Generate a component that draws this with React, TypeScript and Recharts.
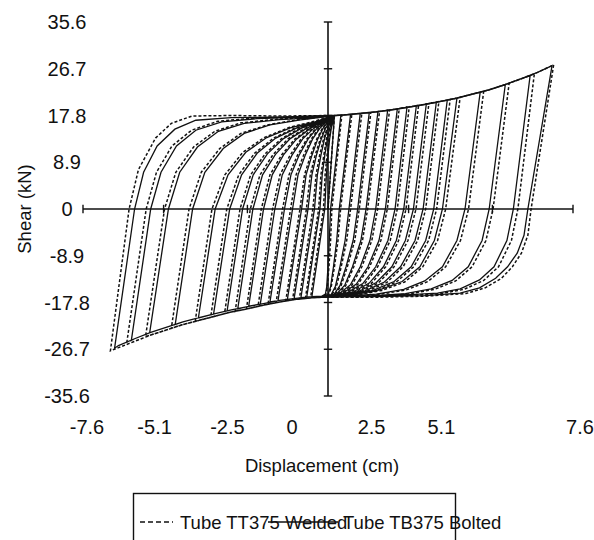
import React from 'react';
import { ScatterChart, Scatter, XAxis, YAxis, ReferenceLine } from 'recharts';

// ---- axis ticks ----
const yTicks = [-35.6, -26.7, -17.8, -8.9, 0, 8.9, 17.8, 26.7, 35.6];
const xTicks = [-7.6, -5.1, -2.5, 0, 2.5, 5.1, 7.6];

// ---- envelopes (cm, kN) ----
const topEnvelope: number[][] = [
  [0.2, 17.8], [0.5, 17.9], [1, 18.2], [1.5, 18.5], [2, 18.9], [2.5, 19.4], [3, 19.9],
  [3.5, 20.5], [4, 21.1], [4.5, 21.9], [5, 22.7], [5.5, 23.7], [6, 24.8], [6.5, 26.0],
];
const bottomEnvelopeSolid: number[][] = [
  [-0.2, -16.6], [-0.5, -16.7], [-1, -17.0], [-1.5, -17.4], [-2, -18.0], [-2.5, -18.6], [-3, -19.2],
  [-3.5, -19.9], [-4, -20.7], [-4.5, -21.5], [-5, -22.5], [-5.5, -23.5], [-6, -24.7], [-6.5, -26.0],
];
const bottomEnvelopeDashed: number[][] = [
  [-0.2, -16.8], [-0.5, -16.9], [-1, -17.2], [-1.5, -17.7], [-2, -18.3], [-2.5, -19.0], [-3, -19.6],
  [-3.5, -20.4], [-4, -21.2], [-4.5, -22.0], [-5, -23.0], [-5.5, -24.0], [-6, -25.2], [-6.5, -26.4],
];

// ---- Tube TB375 Bolted (solid) ----
const posPeaksSolid: number[][] = [
  [0.4, 17.9], [0.7, 18.0], [1.0, 18.2], [1.28, 18.35], [1.55, 18.55], [1.85, 18.8], [2.15, 19.05],
  [2.45, 19.35], [2.74, 19.65], [3.05, 20.0], [3.36, 20.3], [3.7, 20.75], [4.0, 21.1], [4.72, 22.2],
  [5.5, 23.7], [6.27, 25.4], [6.95, 27.3],
];
const negPeaksSolid: number[][] = [
  [-0.5, -16.7], [-0.66, -16.8], [-0.84, -16.9], [-1.05, -17.0], [-1.26, -17.2], [-1.55, -17.4],
  [-1.8, -17.7], [-2.1, -18.1], [-2.46, -18.5], [-2.8, -19.0], [-3.13, -19.4], [-3.55, -20.0],
  [-4.02, -20.7], [-4.74, -22.0], [-5.53, -23.5], [-6.1, -25.0], [-6.62, -26.5],
];
const unloadSolid: number[][][] = [
  [[0.08, 0], [0.04, -6], [0, -11], [-0.04, -14.8], [-0.08, -16.2]],
  [[0.35, 0], [0.27, -6], [0.17, -11], [0.08, -14.8], [0.0, -16.3]],
  [[0.65, 0], [0.53, -6], [0.37, -11], [0.23, -14.7], [0.1, -16.3]],
  [[0.92, 0], [0.78, -6], [0.56, -11], [0.37, -14.6], [0.18, -16.3]],
  [[1.18, 0], [1.02, -6], [0.76, -11], [0.52, -14.5], [0.26, -16.2]],
  [[1.48, 0], [1.3, -6], [1.0, -11], [0.7, -14.4], [0.35, -16.1]],
  [[1.78, 0], [1.58, -6], [1.24, -11], [0.88, -14.3], [0.46, -16.0], [0.15, -16.5]],
  [[2.08, 0], [1.86, -6], [1.48, -11], [1.08, -14.2], [0.6, -15.9], [0.2, -16.5]],
  [[2.35, 0], [2.12, -6], [1.72, -11], [1.28, -14.1], [0.78, -15.8], [0.25, -16.5]],
  [[2.65, 0], [2.4, -6], [1.98, -11], [1.5, -14.0], [0.95, -15.7], [0.3, -16.5]],
  [[2.95, 0], [2.7, -6], [2.25, -11], [1.75, -13.9], [1.15, -15.6], [0.3, -16.6]],
  [[3.28, 0], [3.03, -6], [2.58, -11], [2.05, -13.8], [1.4, -15.5], [0.8, -16.2], [0.3, -16.6]],
  [[3.55, 0], [3.3, -6], [2.85, -11], [2.3, -13.8], [1.6, -15.4], [0.9, -16.2], [0.3, -16.6]],
  [[4.25, 0], [4.0, -6], [3.55, -11], [3.0, -13.7], [2.35, -15.3], [1.5, -16.2], [0.3, -16.7]],
  [[5.0, 0], [4.78, -6], [4.35, -11], [3.85, -13.6], [3.2, -15.2], [2.4, -16.1], [1.2, -16.6], [0.3, -16.7]],
  [[5.75, 0], [5.55, -6], [5.15, -11], [4.7, -13.5], [4.1, -15.2], [3.4, -16.0], [2.0, -16.5], [0.3, -16.7]],
  [[6.2, 0], [6.08, -5], [5.87, -8.4], [5.57, -11], [5.2, -13.2], [4.7, -15.0], [4.1, -16.0], [3.0, -16.5], [1.5, -16.7], [0.3, -16.7]],
];
const reloadSolid: number[][][] = [
  [[-0.1, 0], [-0.05, 6.5], [0.0, 10.2], [0.05, 13.3], [0.1, 15.3], [0.15, 16.6]],
  [[-0.25, 0], [-0.18, 6.5], [-0.1, 10.2], [-0.02, 13.3], [0.05, 15.3], [0.12, 16.6]],
  [[-0.42, 0], [-0.33, 6.5], [-0.22, 10.2], [-0.11, 13.3], [-0.01, 15.3], [0.08, 16.6]],
  [[-0.62, 0], [-0.5, 6.5], [-0.36, 10.2], [-0.21, 13.3], [-0.08, 15.3], [0.05, 16.6]],
  [[-0.82, 0], [-0.68, 6.5], [-0.5, 10.2], [-0.32, 13.3], [-0.16, 15.3], [0.0, 16.6]],
  [[-1.1, 0], [-0.93, 6.5], [-0.71, 10.2], [-0.48, 13.3], [-0.26, 15.3], [-0.05, 16.6]],
  [[-1.35, 0], [-1.15, 6.5], [-0.9, 10.2], [-0.62, 13.3], [-0.35, 15.3], [-0.1, 16.6]],
  [[-1.65, 0], [-1.42, 6.5], [-1.12, 10.2], [-0.79, 13.3], [-0.45, 15.3], [-0.15, 16.6]],
  [[-2.0, 0], [-1.73, 6.5], [-1.38, 10.3], [-0.98, 13.3], [-0.56, 15.3], [-0.2, 16.6]],
  [[-2.33, 0], [-2.03, 6.5], [-1.63, 10.4], [-1.17, 13.4], [-0.68, 15.3], [-0.25, 16.6]],
  [[-2.65, 0], [-2.32, 6.5], [-1.88, 10.5], [-1.38, 13.4], [-0.82, 15.4], [-0.3, 16.6]],
  [[-3.05, 0], [-2.68, 6.5], [-2.2, 10.6], [-1.62, 13.5], [-0.98, 15.4], [-0.35, 16.6]],
  [[-3.5, 0], [-3.1, 6.5], [-2.55, 10.8], [-1.9, 13.6], [-1.15, 15.5], [-0.4, 16.6]],
  [[-4.2, 0], [-3.82, 7], [-3.25, 11.5], [-2.6, 14.4], [-1.8, 16.0], [-0.9, 16.9]],
  [[-4.95, 0], [-4.6, 7], [-4.05, 11.8], [-3.4, 14.8], [-2.6, 16.3], [-1.5, 17.0], [-0.4, 17.4]],
  [[-5.5, 0], [-5.18, 7], [-4.7, 12], [-4.1, 15.0], [-3.3, 16.6], [-2.2, 17.2], [-0.8, 17.5]],
  [[-6.0, 0], [-5.72, 7], [-5.3, 12], [-4.75, 15.2], [-4.1, 16.9], [-3.0, 17.4], [-1.5, 17.5], [0.2, 17.8]],
];

// ---- Tube TT375 Welded (dashed) ----
const posPeaksDashed: number[][] = [
  [0.43, 17.9], [0.74, 18.05], [1.05, 18.25], [1.33, 18.4], [1.6, 18.6], [1.91, 18.85], [2.21, 19.1],
  [2.52, 19.45], [2.81, 19.75], [3.13, 20.1], [3.44, 20.45], [3.79, 20.85], [4.1, 21.3], [4.83, 22.4],
  [5.62, 23.95], [6.4, 25.7], [7.0, 27.45],
];
const negPeaksDashed: number[][] = [
  [-0.54, -16.9], [-0.7, -17.0], [-0.89, -17.15], [-1.1, -17.3], [-1.31, -17.5], [-1.61, -17.8],
  [-1.86, -18.1], [-2.17, -18.5], [-2.53, -19.0], [-2.88, -19.5], [-3.21, -19.9], [-3.64, -20.6],
  [-4.12, -21.4], [-4.86, -22.7], [-5.66, -24.3], [-6.25, -25.8], [-6.75, -27.0],
];
const unloadDashed: number[][][] = [
  [[0.12, 0], [0.08, -6], [0.03, -11], [-0.02, -14.8], [-0.07, -16.3]],
  [[0.39, 0], [0.31, -6], [0.2, -11], [0.1, -14.8], [0.02, -16.4]],
  [[0.7, 0], [0.58, -6], [0.41, -11], [0.26, -14.8], [0.12, -16.4]],
  [[0.97, 0], [0.83, -6], [0.6, -11], [0.4, -14.7], [0.2, -16.4]],
  [[1.23, 0], [1.07, -6], [0.8, -11], [0.55, -14.6], [0.28, -16.3]],
  [[1.54, 0], [1.36, -6], [1.05, -11], [0.74, -14.5], [0.38, -16.2]],
  [[1.84, 0], [1.64, -6], [1.29, -11], [0.92, -14.4], [0.49, -16.1], [0.15, -16.6]],
  [[2.15, 0], [1.93, -6], [1.54, -11], [1.13, -14.3], [0.64, -16.0], [0.2, -16.6]],
  [[2.42, 0], [2.19, -6], [1.79, -11], [1.34, -14.2], [0.82, -15.9], [0.25, -16.6]],
  [[2.73, 0], [2.48, -6], [2.05, -11], [1.56, -14.1], [1.0, -15.8], [0.3, -16.6]],
  [[3.03, 0], [2.78, -6], [2.33, -11], [1.82, -14.0], [1.2, -15.7], [0.3, -16.7]],
  [[3.37, 0], [3.12, -6], [2.66, -11], [2.12, -13.9], [1.46, -15.6], [0.84, -16.3], [0.3, -16.7]],
  [[3.65, 0], [3.4, -6], [2.94, -11], [2.38, -13.9], [1.67, -15.5], [0.95, -16.3], [0.3, -16.7]],
  [[4.36, 0], [4.11, -6], [3.65, -11], [3.1, -13.8], [2.43, -15.4], [1.55, -16.3], [0.3, -16.8]],
  [[5.12, 0], [4.9, -6], [4.47, -11], [3.96, -13.7], [3.3, -15.3], [2.48, -16.2], [1.25, -16.7], [0.3, -16.8]],
  [[5.89, 0], [5.69, -6], [5.29, -11], [4.83, -13.6], [4.22, -15.3], [3.5, -16.1], [2.05, -16.6], [0.3, -16.8]],
  [[6.3, 0], [6.2, -5], [6.0, -8.4], [5.72, -11], [5.38, -13.2], [4.88, -15.0], [4.28, -16.1], [3.0, -16.6], [1.5, -16.8], [0.3, -16.8]],
];
const reloadDashed: number[][][] = [
  [[-0.14, 0], [-0.09, 6.5], [-0.03, 10.2], [0.03, 13.3], [0.08, 15.3], [0.14, 16.6]],
  [[-0.29, 0], [-0.22, 6.5], [-0.13, 10.2], [-0.05, 13.3], [0.03, 15.3], [0.1, 16.6]],
  [[-0.47, 0], [-0.37, 6.5], [-0.26, 10.2], [-0.14, 13.3], [-0.03, 15.3], [0.06, 16.6]],
  [[-0.67, 0], [-0.55, 6.5], [-0.4, 10.2], [-0.24, 13.3], [-0.1, 15.3], [0.03, 16.6]],
  [[-0.87, 0], [-0.73, 6.5], [-0.54, 10.2], [-0.35, 13.3], [-0.18, 15.3], [-0.02, 16.6]],
  [[-1.16, 0], [-0.99, 6.5], [-0.76, 10.2], [-0.52, 13.3], [-0.29, 15.3], [-0.07, 16.6]],
  [[-1.41, 0], [-1.21, 6.5], [-0.95, 10.2], [-0.66, 13.3], [-0.38, 15.3], [-0.12, 16.6]],
  [[-1.72, 0], [-1.49, 6.5], [-1.18, 10.2], [-0.84, 13.3], [-0.49, 15.3], [-0.17, 16.6]],
  [[-2.07, 0], [-1.8, 6.5], [-1.44, 10.3], [-1.03, 13.3], [-0.6, 15.3], [-0.22, 16.6]],
  [[-2.41, 0], [-2.11, 6.5], [-1.7, 10.4], [-1.23, 13.4], [-0.73, 15.3], [-0.28, 16.6]],
  [[-2.73, 0], [-2.4, 6.5], [-1.95, 10.5], [-1.44, 13.4], [-0.87, 15.4], [-0.33, 16.6]],
  [[-3.14, 0], [-2.77, 6.5], [-2.28, 10.6], [-1.69, 13.5], [-1.03, 15.4], [-0.38, 16.6]],
  [[-3.6, 0], [-3.2, 6.5], [-2.64, 10.8], [-1.98, 13.6], [-1.21, 15.5], [-0.44, 16.7]],
  [[-4.31, 0], [-3.93, 7], [-3.36, 11.5], [-2.7, 14.4], [-1.88, 16.0], [-0.95, 17.0]],
  [[-5.07, 0], [-4.72, 7], [-4.17, 11.8], [-3.51, 14.8], [-2.7, 16.4], [-1.58, 17.1], [-0.45, 17.5]],
  [[-5.64, 0], [-5.32, 7], [-4.84, 12], [-4.23, 15.0], [-3.42, 16.7], [-2.3, 17.3], [-0.85, 17.6]],
  [[-6.17, 0], [-5.88, 7.5], [-5.35, 13.5], [-4.86, 16.3], [-4.22, 17.7], [-3.0, 17.8], [-1.5, 17.7], [0.2, 17.8]],
];

// Assemble the continuous test path from the read branches and envelopes
function buildLoops(
  posPeaks: number[][],
  negPeaks: number[][],
  unload: number[][][],
  reload: number[][][],
  bottomEnv: number[][],
) {
  const out: number[][] = [[0, 0]];
  posPeaks.forEach((peak, i) => {
    const lastX = out[out.length - 1][0];
    topEnvelope.forEach((p) => {
      if (p[0] > lastX && p[0] < peak[0]) out.push(p);
    });
    out.push(peak);
    unload[i].forEach((p) => out.push(p));
    const lx = out[out.length - 1][0];
    bottomEnv.forEach((p) => {
      if (p[0] < lx && p[0] > negPeaks[i][0]) out.push(p);
    });
    out.push(negPeaks[i]);
    reload[i].forEach((p) => out.push(p));
  });
  return out.map(([x, y]) => ({ x, y }));
}

const solidData = buildLoops(posPeaksSolid, negPeaksSolid, unloadSolid, reloadSolid, bottomEnvelopeSolid);
const dashedData = buildLoops(posPeaksDashed, negPeaksDashed, unloadDashed, reloadDashed, bottomEnvelopeDashed);

// label placement offsets (px) as they appear in the original figure
const xLabelShift = [4, -9, -20, -36, -37, -51, 7];

const INK = '#111111';
const FONT = '"Liberation Sans", Arial, Helvetica, sans-serif';

function XTick(props: any) {
  const { x, y, payload } = props;
  const i = xTicks.indexOf(payload.value);
  return (
    <text x={x + (xLabelShift[i] || 0)} y={y} dy={30} textAnchor="middle" fontSize={20} fill={INK} fontFamily={FONT}>
      {String(payload.value)}
    </text>
  );
}

function YTick(props: any) {
  const { x, y, payload } = props;
  return (
    <text x={x - 8} y={y} dy={7} textAnchor="middle" fontSize={20} fill={INK} fontFamily={FONT}>
      {String(payload.value)}
    </text>
  );
}

const NoShape = () => <g />;

export default function App() {
  return (
    <div
      style={{
        position: 'absolute',
        left: 0,
        top: 0,
        width: 594,
        height: 540,
        overflow: 'hidden',
        background: '#ffffff',
        fontFamily: FONT,
      }}
    >
      <ScatterChart width={594} height={540} margin={{ top: 22, right: 21, bottom: 64, left: 0 }}>
        <XAxis
          type="number"
          dataKey="x"
          domain={[-7.6, 7.6]}
          ticks={xTicks}
          interval={0}
          axisLine={false}
          tickLine={false}
          tick={<XTick />}
          height={80}
          allowDataOverflow
          label={{ value: 'Displacement (cm)', position: 'insideBottom', offset: 4, dx: -6, fontSize: 18.5, fill: INK }}
        />
        <YAxis
          type="number"
          dataKey="y"
          domain={[-35.6, 35.6]}
          ticks={yTicks}
          interval={0}
          axisLine={false}
          tickLine={false}
          tick={<YTick />}
          width={83}
          allowDataOverflow
          label={{
            value: 'Shear (kN)',
            angle: -90,
            position: 'insideLeft',
            offset: 24,
            fontSize: 18.5,
            fill: INK,
            style: { textAnchor: 'middle' },
          }}
        />
        <Scatter
          name="Tube TT375 Welded"
          data={dashedData}
          shape={<NoShape />}
          fill="none"
          line={{ stroke: INK, strokeWidth: 1.5, strokeDasharray: '3 2', fill: 'none' }}
          isAnimationActive={false}
        />
        <Scatter
          name="Tube TB375 Bolted"
          data={solidData}
          shape={<NoShape />}
          fill="none"
          line={{ stroke: INK, strokeWidth: 1.3, fill: 'none' }}
          isAnimationActive={false}
        />
        <ReferenceLine x={0} stroke={INK} strokeWidth={1.6} />
        <ReferenceLine y={0} stroke={INK} strokeWidth={1.6} />
        {yTicks
          .filter((v) => v !== 0)
          .map((v) => (
            <ReferenceLine
              key={'yt' + v}
              segment={[{ x: -0.13, y: v }, { x: 0.13, y: v }]}
              stroke={INK}
              strokeWidth={1.4}
            />
          ))}
        {xTicks
          .filter((v) => v !== 0)
          .map((v) => (
            <ReferenceLine
              key={'xt' + v}
              segment={[{ x: v, y: -0.8 }, { x: v, y: 0.8 }]}
              stroke={INK}
              strokeWidth={1.4}
            />
          ))}
      </ScatterChart>
      <svg
        width={460}
        height={60}
        style={{ position: 'absolute', left: 133, top: 493, overflow: 'visible' }}
      >
        <rect x={0.5} y={0.5} width={322} height={90} fill="none" stroke={INK} strokeWidth={1.4} />
        <text x={47} y={36} fontSize={18.5} fill={INK} fontFamily={FONT}>
          Tube TT375 Welded
        </text>
        <text x={210} y={36} fontSize={18.5} fill={INK} fontFamily={FONT}>
          Tube TB375 Bolted
        </text>
        <line x1={7} x2={40} y1={29} y2={29} stroke={INK} strokeWidth={1.4} strokeDasharray="5 3" />
        <line x1={135} x2={205} y1={29} y2={29} stroke={INK} strokeWidth={1.4} />
      </svg>
    </div>
  );
}
